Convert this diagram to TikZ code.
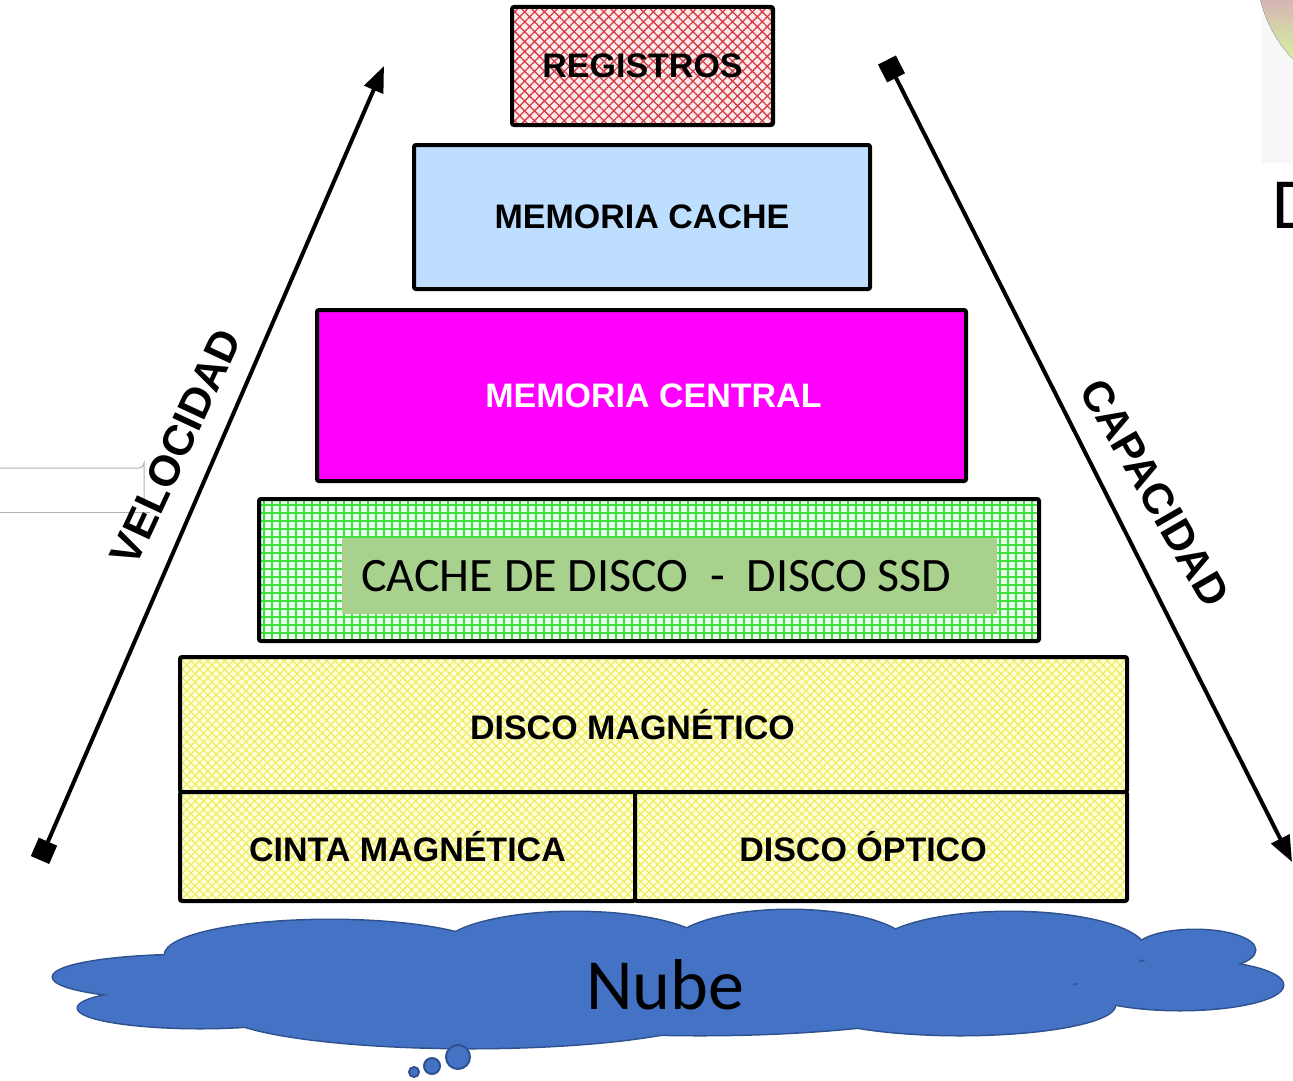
\documentclass[tikz,border=0pt]{standalone}
\usepackage{fontspec}
\setmainfont{Liberation Sans}
\newfontfamily\calibri{Carlito}
\usetikzlibrary{arrows.meta,patterns.meta}
\definecolor{celeste}{RGB}{189,222,255}
\definecolor{fucsia}{RGB}{255,0,255}
\definecolor{verdessd}{RGB}{169,209,142}
\definecolor{verderejilla}{RGB}{60,225,60}
\definecolor{verdefondo}{RGB}{235,255,238}
\definecolor{rojotrama}{RGB}{215,60,70}
\definecolor{rosafondo}{RGB}{252,235,235}
\definecolor{amarillotrama}{RGB}{240,236,100}
\definecolor{amarillofondo}{RGB}{255,255,222}
\definecolor{nube}{RGB}{68,114,196}
\definecolor{nubeborde}{RGB}{47,82,143}
\begin{document}
\begin{tikzpicture}
[
    x=1pt, y=-1pt,
    caja/.style={draw=black, line width=4pt, rounded corners=2pt, inner sep=0pt},
    rotulo/.style={font=\bfseries\fontsize{34}{40}\selectfont},
    eje/.style={line width=4pt, {Square[length=20pt,width=20pt]}-{Triangle[length=26pt,width=20pt]}},
    ejetexto/.style={font=\bfseries\fontsize{43}{48}\selectfont},
    trama amarilla/.style={preaction={fill=amarillofondo},
        pattern={Hatch[angle=45,distance=6pt,line width=1.3pt]}, pattern color=amarillotrama},
]
\useasboundingbox (0,0) rectangle (1293,1081);

% restos de la diapositiva
\fill[black!3] (1262,0) rectangle (1293,163);
\begin{scope}
\clip (1385,-30) circle [radius=128];
\fill[top color=red!30!gray!45, bottom color=yellow!55!green!40] (1250,0) rectangle (1293,70);
\end{scope}
\draw[black!30] (1385,-30) circle [radius=128];
\node[font=\calibri\fontsize{72}{80}\selectfont, anchor=base west, inner sep=0pt] (letrad) at (1272,228) {D};
\draw[black!30, line width=1pt] (0,468) -- (139,468) arc [start angle=90, end angle=0, radius=5] -- (144,505);
\draw[black!30, line width=1pt] (0,512) -- (150,512);

% piramide
\node[caja, preaction={fill=rosafondo}, pattern={Hatch[angle=45,distance=7pt,line width=1.3pt]}, pattern color=rojotrama,
    minimum width=261pt, minimum height=118pt, rotulo] (registros) at (642.5,66) {REGISTROS};
\node[caja, fill=celeste, minimum width=456pt, minimum height=144pt, rotulo] (cache) at (642,217) {MEMORIA CACHE};
\node[caja, fill=fucsia, minimum width=649pt, minimum height=171pt] (central) at (641.5,395.5) {};
\node[rotulo, text=white] at ([xshift=12pt]central.center) {MEMORIA CENTRAL};
\node[caja, preaction={fill=verdefondo}, pattern={Hatch[angle=0,distance=8pt,line width=1.5pt]}, pattern color=verderejilla,
    minimum width=780pt, minimum height=142pt] (ssd) at (649,570) {};
\node[fill=verdessd, minimum width=655pt, minimum height=76pt, inner sep=0pt] (ssdtexto) at (669.5,576) {};
\node[font=\calibri\fontsize{48}{54}\selectfont] at ([xshift=-13pt]ssdtexto.center) {CACHE DE DISCO\ \ -\ \ DISCO SSD};
\node[caja, trama amarilla, minimum width=947pt, minimum height=135pt] (magnetico) at (653.5,724.5) {};
\node[rotulo] at ([xshift=-21pt]magnetico.center) {DISCO MAGNÉTICO};
\node[caja, trama amarilla, minimum width=455pt, minimum height=109pt, rotulo] (cinta) at (407.5,846.5) {CINTA MAGNÉTICA};
\node[caja, trama amarilla, minimum width=492pt, minimum height=109pt] (optico) at (881,846.5) {};
\node[rotulo] at ([xshift=-18pt]optico.center) {DISCO ÓPTICO};

% ejes
\coordinate (vbajo) at (40,860);
\coordinate (valto) at (384,66);
\draw[eje] (vbajo) -- (valto);
\node[ejetexto, rotate=65] (velocidad) at (176,447) {VELOCIDAD};
\coordinate (calto) at (887,60);
\coordinate (cbajo) at (1292,862);
\draw[eje] (calto) -- (cbajo);
\node[ejetexto, rotate=-60] (capacidad) at (1155,493) {CAPACIDAD};

% nube
\def\lobulos{190/977/137/22, 200/1008/122/20, 330/955/165/35, 575/950/135/38, 790/948/120/38,
    1010/950/135/38, 1195/950/60/20, 1180/985/103/25, 470/1010/250/38, 960/1005/155/30, 700/985/300/50}
\foreach \cx/\cy/\rx/\ry in \lobulos
    \draw[nubeborde, line width=3pt] (\cx,\cy) ellipse [x radius=\rx, y radius=\ry];
\foreach \cx/\cy/\rx/\ry in \lobulos
    \fill[nube] (\cx,\cy) ellipse [x radius=\rx, y radius=\ry];
\foreach \bx/\by/\br in {458/1057/12, 432/1066/8, 414/1072/5}
    \draw[nubeborde, fill=nube, line width=2pt] (\bx,\by) circle [radius=\br];
\node[font=\calibri\fontsize{72}{80}\selectfont] (nubetexto) at (665,985) {Nube};
\end{tikzpicture}
\end{document}
